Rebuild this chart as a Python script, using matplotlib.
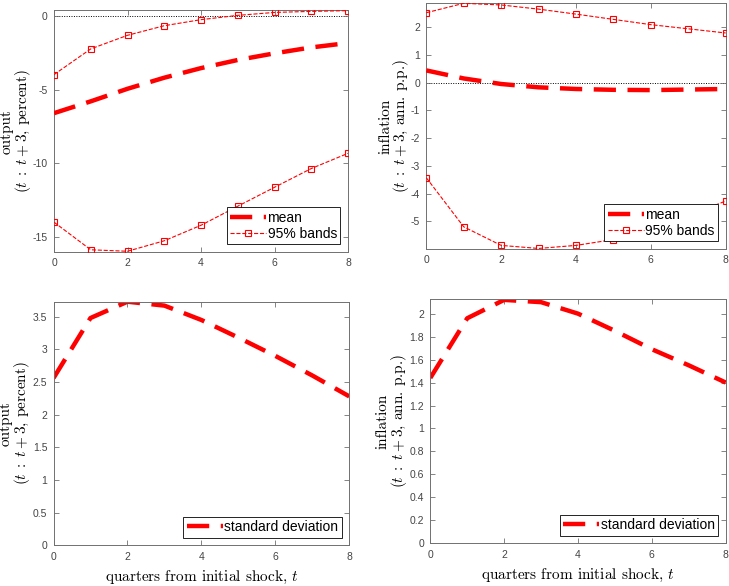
import matplotlib
matplotlib.use("Agg")
import matplotlib.pyplot as plt
import numpy as np

plt.rcParams['mathtext.fontset'] = 'cm'
plt.rcParams['font.family'] = ['Liberation Sans', 'DejaVu Sans']

quarters = [0, 1, 2, 3, 4, 5, 6, 7, 8]

output_mean = [-6.6, -5.8, -4.95, -4.2, -3.55, -3.0, -2.55, -2.15, -1.85]
output_upper = [-3.99, -2.25, -1.33, -0.68, -0.27, 0.02, 0.22, 0.29, 0.34]
output_lower = [-13.98, -15.85, -15.95, -15.24, -14.19, -12.9, -11.62, -10.35, -9.32]

infl_mean = [0.44, 0.15, -0.05, -0.17, -0.23, -0.26, -0.27, -0.25, -0.23]
infl_upper = [2.52, 2.86, 2.80, 2.65, 2.47, 2.28, 2.09, 1.94, 1.79]
infl_lower = [-3.43, -5.2, -5.87, -5.98, -5.87, -5.66, -5.3, -4.8, -4.27]

output_sd = [2.56, 3.48, 3.73, 3.67, 3.45, 3.18, 2.9, 2.6, 2.28]
infl_sd = [1.44, 1.96, 2.12, 2.10, 2.0, 1.85, 1.69, 1.55, 1.40]

ylab_output = "output\n(" + r"$t\;:\;t+3$" + ", percent)"
ylab_infl = "inflation\n(" + r"$t\;:\;t+3$" + ", ann. p.p.)"
xlab = "quarters from initial shock, " + r"$t$"

W, H = 729, 586
fig = plt.figure(figsize=(W / 100, H / 100), dpi=100)

def rect(l, r, t, b):
    return [l / W, 1 - b / H, (r - l) / W, (b - t) / H]

ax1 = fig.add_axes(rect(54, 348, 10.5, 252))
ax2 = fig.add_axes(rect(426.3, 725.7, 3.3, 249))
ax3 = fig.add_axes(rect(53.5, 349.3, 301.7, 545.3))
ax4 = fig.add_axes(rect(430.3, 725.7, 299.3, 543.3))

red = '#ff0000'
mean_dash = (5, 2.6)
serif = 'cmr10'

def style(ax):
    for s in ax.spines.values():
        s.set_color('#707070')
        s.set_linewidth(0.7)
    ax.tick_params(direction='in', top=True, right=True, length=3.5, width=0.6,
                   color='#707070', labelcolor='#444444', labelsize=7.5, pad=4.5)
    ax.set_xlim(0, 8)
    ax.set_xticks([0, 2, 4, 6, 8])

def set_ylab(ax, ylab, xpos):
    ax.set_ylabel(ylab, fontsize=11, linespacing=0.95, fontfamily=serif)
    ax.yaxis.set_label_coords(xpos, 0.5)

def top_panel(ax, mean, upper, lower, ylab, xpos, ylim, yticks, yticklabels):
    ax.axhline(0, color='black', lw=0.7, ls=(0, (1, 1.5)), zorder=1)
    lm, = ax.plot(quarters, mean, color=red, lw=3.2, dashes=mean_dash, label='mean', zorder=3)
    lb, = ax.plot(quarters, upper, color=red, lw=0.8, ls='--', marker='s', ms=4.5,
                  mfc='none', mec=red, mew=0.8, label='95% bands', zorder=3)
    ax.plot(quarters, lower, color=red, lw=0.8, ls='--', marker='s', ms=4.5,
            mfc='none', mec=red, mew=0.8, zorder=3)
    ax.set_ylim(*ylim)
    ax.set_yticks(yticks)
    ax.set_yticklabels(yticklabels)
    set_ylab(ax, ylab, xpos)
    style(ax)
    leg = ax.legend(handles=[lm, lb], loc='lower right', fontsize=10, fancybox=False,
                    framealpha=1, edgecolor='black', borderpad=0.25, labelspacing=0.15,
                    handlelength=2.6, handletextpad=0.1, borderaxespad=0.55)
    leg.get_frame().set_linewidth(0.6)
    leg.set_zorder(5)

def bottom_panel(ax, sd, ylab, xpos, ylim, yticks, yticklabels):
    ax.axhline(0, color='black', lw=0.7, ls=(0, (1, 1.5)), zorder=1)
    ls_, = ax.plot(quarters, sd, color=red, lw=3.2, dashes=mean_dash, label='standard deviation')
    ax.set_ylim(*ylim)
    ax.set_yticks(yticks)
    ax.set_yticklabels(yticklabels)
    set_ylab(ax, ylab, xpos)
    ax.set_xlabel(xlab, fontsize=11, labelpad=5, fontfamily=serif)
    style(ax)
    leg = ax.legend(handles=[ls_], loc='lower right', fontsize=10, fancybox=False,
                    framealpha=1, edgecolor='black', borderpad=0.25,
                    handlelength=2.6, handletextpad=0.1, borderaxespad=0.55)
    leg.get_frame().set_linewidth(0.6)

top_panel(ax1, output_mean, output_upper, output_lower, ylab_output, -0.071, (-16, 0.35),
          [-15, -10, -5, 0], ['-15', '-10', '-5', '0'])
top_panel(ax2, infl_mean, infl_upper, infl_lower, ylab_infl, -0.05, (-6, 2.86),
          [-5, -4, -3, -2, -1, 0, 1, 2], ['-5', '-4', '-3', '-2', '-1', '0', '1', '2'])
bottom_panel(ax3, output_sd, ylab_output, -0.072, (0, 3.73),
             [0, 0.5, 1, 1.5, 2, 2.5, 3, 3.5], ['0', '0.5', '1', '1.5', '2', '2.5', '3', '3.5'])
bottom_panel(ax4, infl_sd, ylab_infl, -0.073, (0, 2.125),
             [0, 0.2, 0.4, 0.6, 0.8, 1, 1.2, 1.4, 1.6, 1.8, 2],
             ['0', '0.2', '0.4', '0.6', '0.8', '1', '1.2', '1.4', '1.6', '1.8', '2'])

fig.savefig('out.png', dpi=100)
